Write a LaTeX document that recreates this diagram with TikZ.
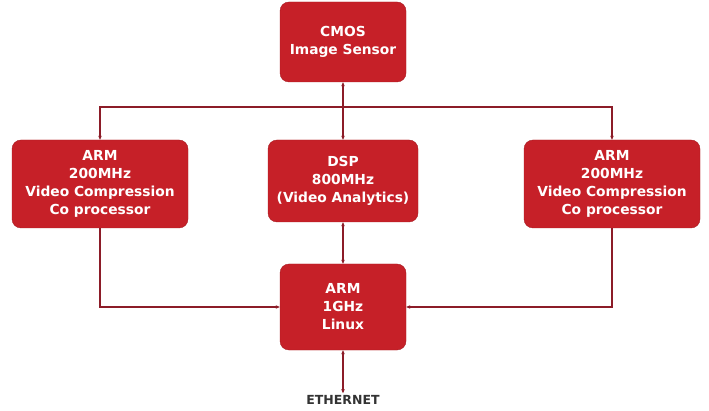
\documentclass[tikz,border=0pt]{standalone}
\usepackage{fontspec}
\setmainfont{DejaVu Sans}
\usetikzlibrary{arrows.meta}
\definecolor{boxred}{RGB}{198,32,40}
\definecolor{linered}{RGB}{140,28,40}
\tikzset{
    unit/.style={draw=boxred!85!black,fill=boxred,rounded corners=9pt,
        text=white,font=\bfseries\fontsize{13.8}{18}\selectfont,
        align=center,inner sep=2pt},
    link/.style={linered,line width=1.3pt,
        arrows={-Stealth[length=4pt,width=3.5pt]}},
    biglink/.style={link,arrows={Stealth[length=4pt,width=3.5pt]-Stealth[length=4pt,width=3.5pt]}}
}
\begin{document}
\begin{tikzpicture}[x=1pt,y=-1pt]
        \useasboundingbox (0,0) rectangle (709,411);
        \node[unit,minimum width=126pt,minimum height=80pt] (cmos) at (343,42) {CMOS\\Image Sensor};
        \node[unit,minimum width=176pt,minimum height=88pt] (armL) at (100,184) {ARM\\200MHz\\Video Compression\\Co processor};
        \node[unit,minimum width=150pt,minimum height=82pt] (dsp) at (343,181) {DSP\\800MHz\\(Video Analytics)};
        \node[unit,minimum width=176pt,minimum height=88pt] (armR) at (612,184) {ARM\\200MHz\\Video Compression\\Co processor};
        \node[unit,minimum width=126pt,minimum height=86pt] (armC) at (343,307) {ARM\\1GHz\\Linux};
        \node[font=\bfseries\fontsize{12.5}{13}\selectfont,text=black!80,inner sep=2pt] (eth) at (343,400) {ETHERNET};
        \coordinate (bus) at (343,107);
        % links
        \draw[biglink] (cmos) -- (dsp);
        \draw[link] (bus) -| (armL);
        \draw[link] (bus) -| (armR);
        \draw[biglink] (dsp) -- (armC);
        \draw[link] (armL) |- (armC);
        \draw[link] (armR) |- (armC);
        \draw[biglink] (armC) -- (eth);
    \end{tikzpicture}
\end{document}
